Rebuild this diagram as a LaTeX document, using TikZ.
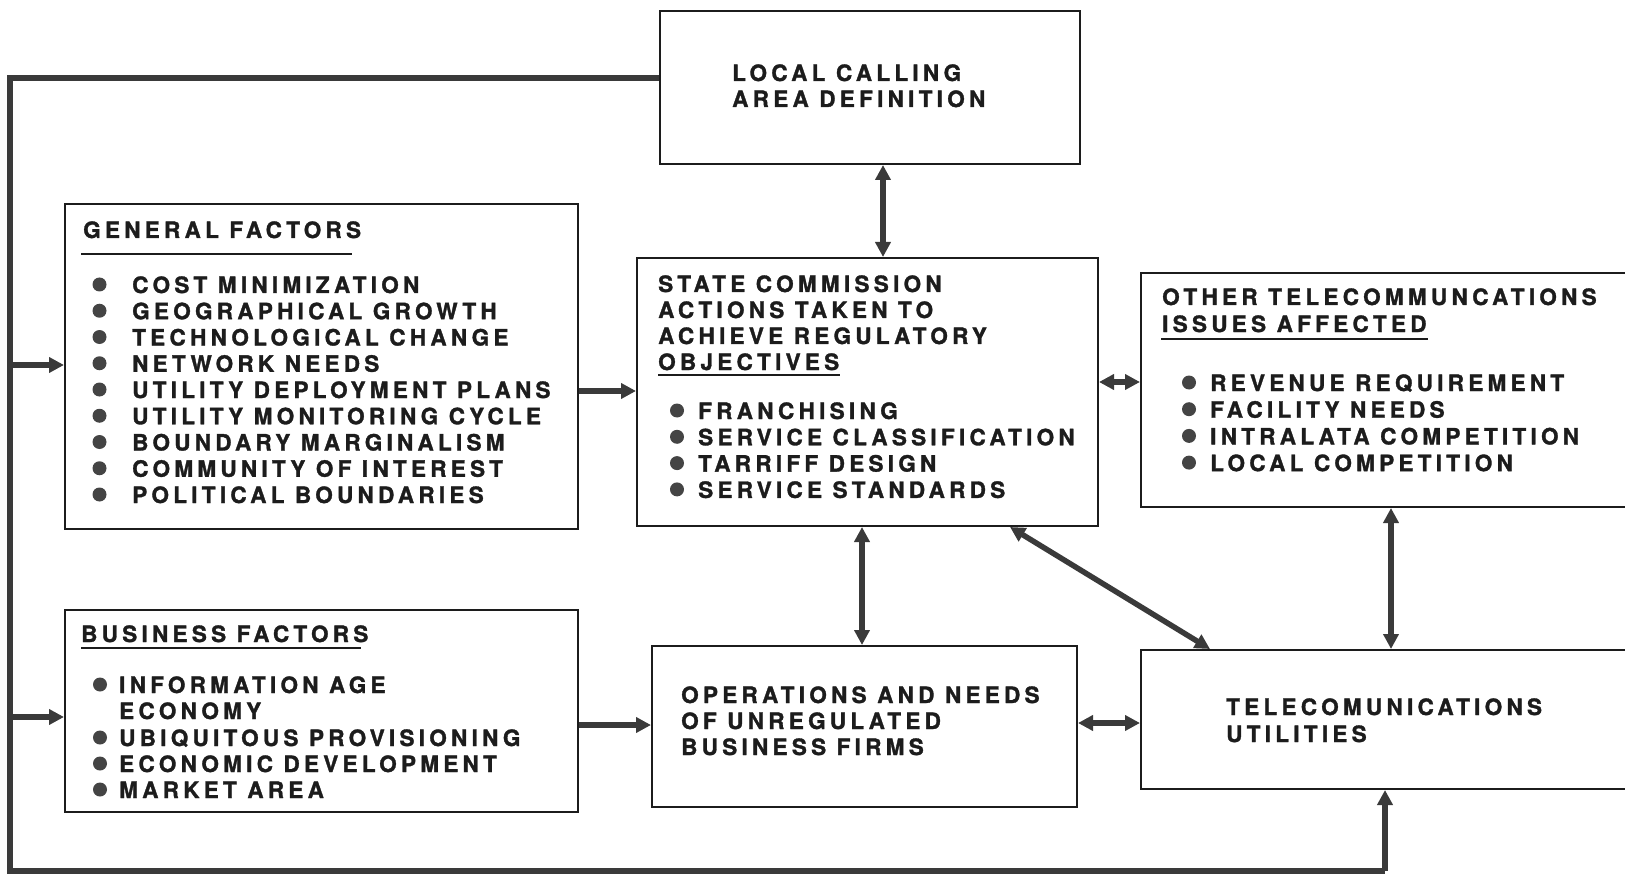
\documentclass[tikz,border=0pt]{standalone}
\usepackage{fontspec}
\setmainfont{TeX Gyre Heros}[LetterSpace=19,BoldFeatures={FakeBold=1.4}]
\usetikzlibrary{arrows.meta,calc}
\definecolor{ink}{HTML}{1C1C1C}
\definecolor{shaft}{HTML}{3A3A3A}
\definecolor{dotc}{HTML}{444444}
\begin{document}
\begin{tikzpicture}[x=1pt,y=-1pt,
  box/.style={draw=ink,line width=2pt,inner sep=0pt,anchor=north west},
  lbl/.style={text=ink,inner sep=0pt,anchor=base west,font=\fontsize{22.5}{27}\selectfont\bfseries},
  rule/.style={draw=ink,line width=2pt},
  bul/.style={fill=dotc},
  conn/.style={draw=shaft,line width=5.5pt,-{Triangle[length=15pt,width=15pt]}},
  both/.style={draw=shaft,line width=5.5pt,{Triangle[length=15pt,width=15pt]}-{Triangle[length=15pt,width=15pt]}},
  loopline/.style={draw=shaft,line width=6.5pt,line join=miter}]
\useasboundingbox (0,0) rectangle (1625,877);
\clip (0,0) rectangle (1625,877);

% boxes
\node[box,minimum width=420pt,minimum height=153pt] (local) at (659,10) {};
\node[box,minimum width=513pt,minimum height=325pt] (general) at (64,203) {};
\node[box,minimum width=461pt,minimum height=268pt] (state) at (636,257) {};
\node[box,minimum width=520pt,minimum height=234pt] (other) at (1140,272) {};
\node[box,minimum width=513pt,minimum height=202pt] (business) at (64,609) {};
\node[box,minimum width=425pt,minimum height=161pt] (ops) at (651,645) {};
\node[box,minimum width=520pt,minimum height=139pt] (tele) at (1140,649) {};

% local calling area
\node[lbl] (local1) at (732,81) {LOCAL CALLING};
\node[lbl] (local2) at (732,107) {AREA DEFINITION};

% general factors
\node[lbl] (gtitle) at (83,238) {GENERAL FACTORS};
\draw[rule] (81,254) -- (352,254);
\foreach \t [count=\i] in {COST MINIMIZATION,GEOGRAPHICAL GROWTH,TECHNOLOGICAL CHANGE,NETWORK NEEDS,UTILITY DEPLOYMENT PLANS,UTILITY MONITORING CYCLE,BOUNDARY MARGINALISM,COMMUNITY OF INTEREST,POLITICAL BOUNDARIES}{
  \node[lbl] (g\i) at (132,{293+26.25*(\i-1)}) {\t};
  \fill[bul] (99.5,{284.5+26.25*(\i-1)}) circle[radius=7pt];
}

% state commission
\foreach \t [count=\i] in {STATE COMMISSION,ACTIONS TAKEN TO,ACHIEVE REGULATORY,OBJECTIVES}{
  \node[lbl] (s\i) at (658,{292+26*(\i-1)}) {\t};
}
\draw[rule] (658,375) -- (840,375);
\foreach \t [count=\i] in {FRANCHISING,SERVICE CLASSIFICATION,TARRIFF DESIGN,SERVICE STANDARDS}{
  \node[lbl] (si\i) at (698,{419+26.3*(\i-1)}) {\t};
  \fill[bul] (677,{410.5+26.3*(\i-1)}) circle[radius=7pt];
}

% other issues
\node[lbl] (o1) at (1162,305) {OTHER TELECOMMUNCATIONS};
\node[lbl] (o2) at (1162,332) {ISSUES AFFECTED};
\draw[rule] (1161,339) -- (1428,339);
\foreach \t [count=\i] in {REVENUE REQUIREMENT,FACILITY NEEDS,INTRALATA COMPETITION,LOCAL COMPETITION}{
  \node[lbl] (oi\i) at (1210,{391+26.7*(\i-1)}) {\t};
  \fill[bul] (1189,{382.5+26.7*(\i-1)}) circle[radius=7pt];
}

% business factors
\node[lbl] (btitle) at (81,642) {BUSINESS FACTORS};
\draw[rule] (81,648) -- (361,648);
\node[lbl] (b1) at (119,693) {INFORMATION AGE};
\node[lbl] (b2) at (119,719) {ECONOMY};
\node[lbl] (b3) at (119,746) {UBIQUITOUS PROVISIONING};
\node[lbl] (b4) at (119,772) {ECONOMIC DEVELOPMENT};
\node[lbl] (b5) at (119,798) {MARKET AREA};
\foreach \yy in {684.5,737.5,763.5,789.5}{
  \fill[bul] (100,\yy) circle[radius=7pt];
}

% operations of unregulated firms
\node[lbl] (op1) at (681,703) {OPERATIONS AND NEEDS};
\node[lbl] (op2) at (681,729) {OF UNREGULATED};
\node[lbl] (op3) at (681,755) {BUSINESS FIRMS};

% utilities
\node[lbl] (t1) at (1226,715) {TELECOMUNICATIONS};
\node[lbl] (t2) at (1226,742) {UTILITIES};

% feedback loop around the left and bottom
\coordinate (lt) at (10,78);
\coordinate (lb) at (10,871);
\coordinate (rb) at (1385,871);
\draw[loopline] (local.west |- lt) -- (lt) -- (lb) -- (rb);
\draw[conn,line width=6.5pt] (rb) -- (tele.south -| rb);
\coordinate (ga) at (10,365);
\coordinate (ba) at (10,717);
\draw[conn] (ga) -- (general.west |- ga);
\draw[conn] (ba) -- (business.west |- ba);

% connectors between blocks
\draw[conn] (general.east |- 0,391) -- (state.west |- 0,391);
\draw[conn] (business.east |- 0,725) -- (ops.west |- 0,725);
\draw[both] (local.south -| 883,0) -- (state.north -| 883,0);
\draw[both] (state.east |- 0,382) -- (other.west |- 0,382);
\draw[both] (state.south -| 862,0) -- (ops.north -| 862,0);
\draw[both] (state.south -| 1010,0) -- (tele.north -| 1210,0);
\draw[both] (ops.east |- 0,723) -- (tele.west |- 0,723);
\draw[both] (other.south -| 1391,0) -- (tele.north -| 1391,0);
\end{tikzpicture}
\end{document}
